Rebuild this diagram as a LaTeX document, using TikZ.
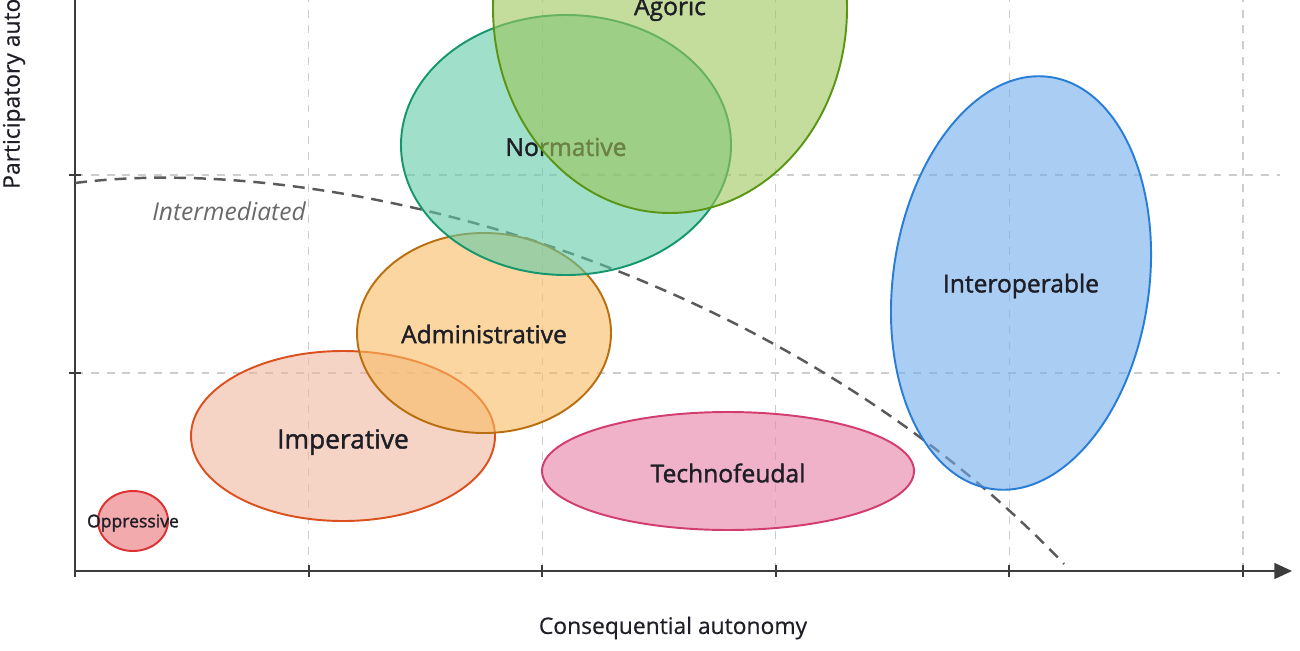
\documentclass[tikz,border=0pt]{standalone}
\usepackage{fontspec}
\setmainfont{Open Sans}
\newfontfamily\tagfont[FakeBold=1.5]{Open Sans}
\newfontfamily\axisfont[FakeBold=0.5]{Open Sans}
\usepackage{tikz}
\usetikzlibrary{calc}
\usetikzlibrary{arrows.meta}
\usetikzlibrary{positioning}

\definecolor{axisgray}{RGB}{60,60,60}
\definecolor{gridgray}{RGB}{205,205,205}
\definecolor{curvegray}{RGB}{90,90,90}
\definecolor{labelgray}{RGB}{105,105,105}
\definecolor{textdark}{RGB}{30,30,38}
\definecolor{agoricfill}{RGB}{157,197,90}
\definecolor{agoricline}{RGB}{90,150,20}
\definecolor{normfill}{RGB}{97,203,167}
\definecolor{normline}{RGB}{20,150,110}
\definecolor{adminfill}{RGB}{250,187,97}
\definecolor{adminline}{RGB}{185,110,15}
\definecolor{imperfill}{RGB}{238,183,160}
\definecolor{imperline}{RGB}{220,80,30}
\definecolor{oppfill}{RGB}{233,113,117}
\definecolor{oppline}{RGB}{220,50,50}
\definecolor{technofill}{RGB}{230,127,163}
\definecolor{technoline}{RGB}{210,60,110}
\definecolor{interfill}{RGB}{113,172,235}
\definecolor{interline}{RGB}{40,125,215}

\begin{document}
\begin{tikzpicture}[x=0.02cm, y=0.02cm,
        grid/.style={gridgray, line width=0.6pt, dash pattern=on 4.5pt off 4.5pt},
        axis/.style={axisgray, line width=1.1pt},
        region/.style={line width=1.1pt, fill opacity=0.6},
        tag/.style={textdark, font=\tagfont\fontsize{14}{16}\selectfont}]
        \useasboundingbox (-75,-79) rectangle (1225,571);
        \clip (-75,-79) rectangle (1225,571);

        % grid
        \foreach \i in {1,...,5}
            \draw[grid] (\i*233.6,0) -- (\i*233.6,580);
        \foreach \j in {1,2}
            \draw[grid] (0,\j*198) -- (1205,\j*198);

        % axes
        \coordinate (o) at (0,0);
        \coordinate (xend) at (1217,0);
        \coordinate (yend) at (0,600);
        \draw[axis, -{Triangle[length=10pt, width=9pt]}] (o) -- (xend);
        \draw[axis] (o) -- (yend);
        \foreach \i in {0,...,5}
            \draw[axis] (\i*233.6,-6) -- (\i*233.6,6);
        \foreach \j in {1,2}
            \draw[axis] (-6,\j*198) -- (6,\j*198);
        \node[textdark, font=\axisfont\fontsize{13}{15}\selectfont] (xlabel) at (598,-57) {Consequential autonomy};
        \node[textdark, font=\axisfont\fontsize{13}{15}\selectfont, rotate=90, anchor=west] (ylabel) at (-61,376) {Participatory autonomy};

        % boundary
        \coordinate (b0) at (0,388);
        \coordinate (b1) at (989,7);
        \draw[curvegray, line width=1.4pt, dash pattern=on 6.8pt off 4.5pt] (b0) .. controls (250,420) and (700,310) .. (b1);
        \node[labelgray, font=\fontsize{14}{16}\itshape\selectfont] (intermediated) at (154,360) {Intermediated};

        % regions
        \draw[region, draw=oppline, fill=oppfill] (58,50) ellipse [x radius=35, y radius=30];
        \node[textdark, font=\tagfont\fontsize{10}{12}\selectfont] (oppressive) at (58,48) {Oppressive};

        \draw[region, draw=imperline, fill=imperfill] (268,135) ellipse [x radius=152, y radius=85];
        \node[tag, font=\tagfont\fontsize{15}{18}\selectfont] (imperative) at (268,129) {Imperative};

        \draw[region, draw=adminline, fill=adminfill] (409,238) ellipse [x radius=127, y radius=100];
        \node[tag] (administrative) at (409,237) {Administrative};

        \draw[region, draw=normline, fill=normfill] (491,426) ellipse [x radius=165, y radius=130];
        \node[tag] (normative) at (491,424) {Normative};

        \draw[region, draw=agoricline, fill=agoricfill] (595,563) ellipse [x radius=177, y radius=205];
        \node[tag] (agoric) at (595,562) {Agoric};

        \draw[region, draw=technoline, fill=technofill] (653,100) ellipse [x radius=186, y radius=59];
        \node[tag] (technofeudal) at (653,98) {Technofeudal};

        \draw[region, draw=interline, fill=interfill, rotate around={-8:(946,288)}] (946,288) ellipse [x radius=128, y radius=208];
        \node[tag] (interoperable) at (946,285) {Interoperable};
\end{tikzpicture}
\end{document}
